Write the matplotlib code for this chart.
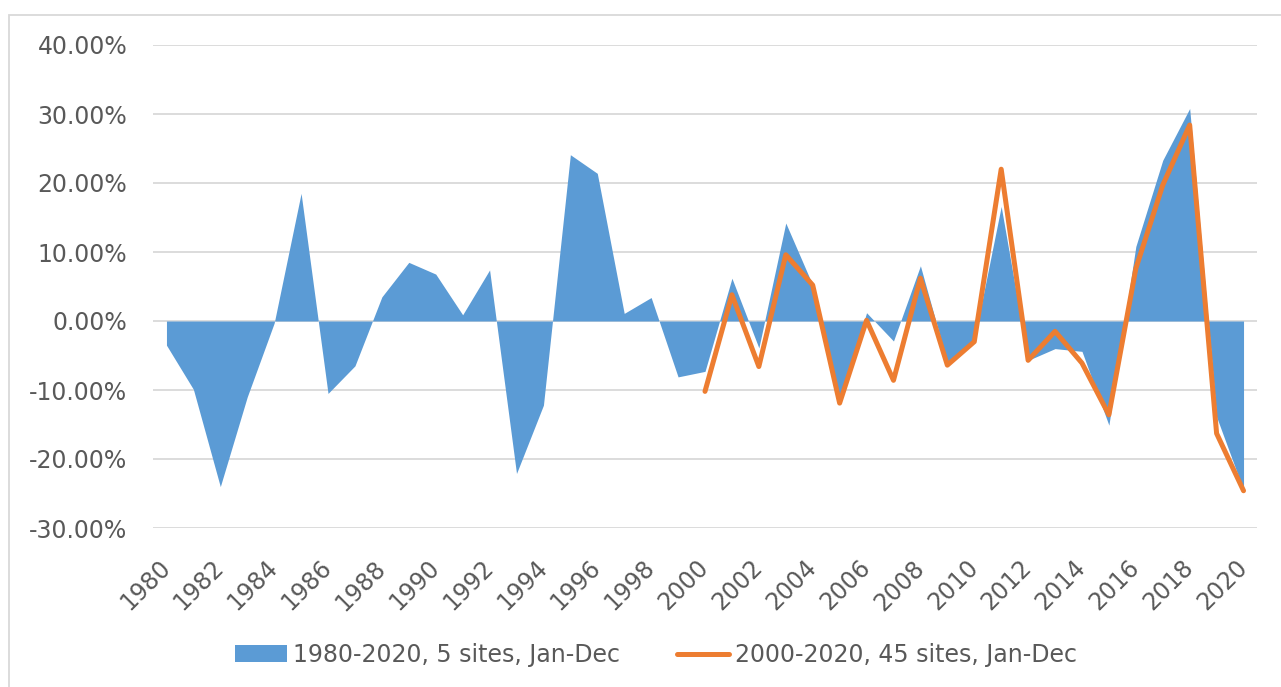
import numpy as np
import matplotlib
matplotlib.use("Agg")
import matplotlib.pyplot as plt
import matplotlib.transforms as mtransforms
from matplotlib.patches import Patch, Rectangle
from matplotlib.lines import Line2D
from matplotlib.ticker import FuncFormatter

# values (fraction, not %)
years = list(range(1980, 2021))
sites5 = [-0.035, -0.099, -0.240, -0.110, -0.003, 0.185, -0.105, -0.065, 0.035, 0.085,
          0.068, 0.009, 0.074, -0.221, -0.122, 0.241, 0.214, 0.011, 0.034, -0.081,
          -0.073, 0.062, -0.039, 0.142, 0.052, -0.115, 0.012, -0.029, 0.080, -0.060,
          -0.027, 0.166, -0.057, -0.040, -0.044, -0.151, 0.108, 0.233, 0.308, -0.139,
          -0.245]
years45 = list(range(2000, 2021))
sites45 = [-0.102, 0.038, -0.066, 0.096, 0.052, -0.119, 0.001, -0.086, 0.062, -0.064,
           -0.030, 0.220, -0.057, -0.015, -0.061, -0.136, 0.076, 0.197, 0.284, -0.163,
           -0.246]

label5 = "1980-2020, 5 sites, Jan-Dec"
label45 = "2000-2020, 45 sites, Jan-Dec"

blue = "#5B9BD5"
orange = "#ED7D31"
txt = "#595959"
fs = 17

fig = plt.figure(figsize=(12.81, 6.87), dpi=100)
ax = fig.add_axes([153 / 1281, 1 - 528 / 687, (1257 - 153) / 1281, (528 - 45) / 687])

ax.fill_between(years, sites5, 0, color=blue, linewidth=0, zorder=2)
ax.plot(years45, sites45, color=orange, lw=3.6, solid_joinstyle="round",
        solid_capstyle="round", zorder=3)

ax.set_xlim(1979.5, 2020.5)
ax.set_ylim(-0.30, 0.40)
ax.set_yticks(np.arange(-0.3, 0.41, 0.1))
ax.yaxis.set_major_formatter(FuncFormatter(lambda v, p: f"{v * 100:.2f}%"))
ax.set_xticks(years[::2])
ax.set_xticklabels([str(y) for y in years[::2]], rotation=45, ha="right", va="center",
                   rotation_mode="anchor")
shift = mtransforms.ScaledTranslation(-5 / 100, 0, fig.dpi_scale_trans)
for lab in ax.get_xticklabels():
    lab.set_transform(lab.get_transform() + shift)

ax.grid(axis="y", color="#D9D9D9", lw=1.3, zorder=0)
ax.set_axisbelow(True)
for s in ax.spines.values():
    s.set_visible(False)
ax.tick_params(length=0, labelsize=fs, labelcolor=txt)
ax.tick_params(axis="y", pad=18.5)
ax.tick_params(axis="x", pad=26)

handles = [Patch(facecolor=blue, edgecolor="none", label=label5),
           Line2D([0], [0], color=orange, lw=3.6, solid_capstyle="round", label=label45)]
fig.legend(handles=handles, loc="center", bbox_to_anchor=(656 / 1281, 1 - 655 / 687),
           ncol=2, frameon=False, fontsize=fs, labelcolor=txt, handlelength=2.2,
           handletextpad=0.25, columnspacing=2.4)

fig.add_artist(Rectangle((9 / 1281, -0.05), 1.1, 1.05 - 15 / 687,
                         transform=fig.transFigure, fill=False, edgecolor="#D9D9D9", lw=1.3))

fig.savefig("out.png", dpi=100)
